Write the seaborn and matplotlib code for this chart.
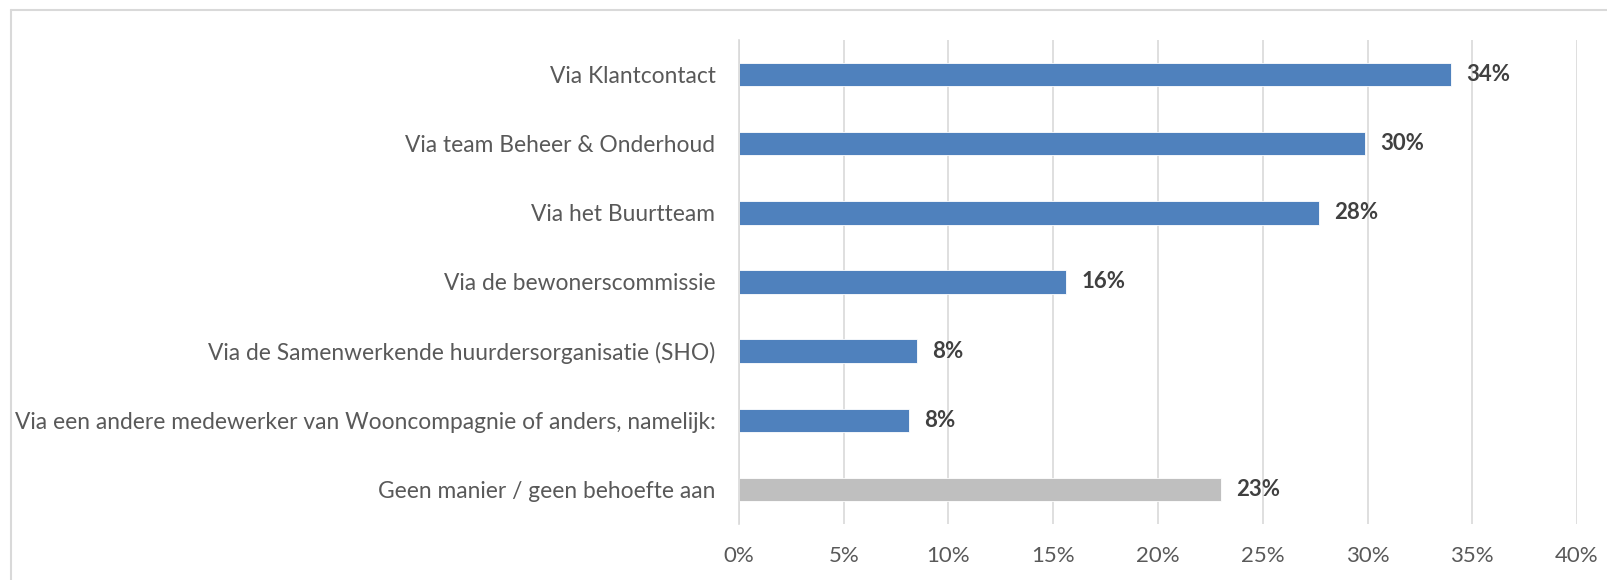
import matplotlib
matplotlib.use("Agg")
import matplotlib.pyplot as plt
import matplotlib.ticker as mticker
import seaborn as sns
import pandas as pd

categories = [
    "Via Klantcontact",
    "Via team Beheer & Onderhoud",
    "Via het Buurtteam",
    "Via de bewonerscommissie",
    "Via de Samenwerkende huurdersorganisatie (SHO)",
    "Via een andere medewerker van Wooncompagnie of anders, namelijk:",
    "Geen manier / geen behoefte aan",
]
values = [34.0, 29.9, 27.7, 15.6, 8.5, 8.1, 23.0]
labels = ["34%", "30%", "28%", "16%", "8%", "8%", "23%"]
colors = ["#4F81BD"] * 6 + ["#BFBFBF"]
xticks = [0, 5, 10, 15, 20, 25, 30, 35, 40]

df = pd.DataFrame({"categorie": categories, "waarde": values})

sns.set_theme(style="white")
plt.rcParams["font.family"] = ["Lato", "DejaVu Sans"]

fig = plt.figure(figsize=(16.08, 5.8), dpi=100)
ax = fig.add_axes([739 / 1608, 1 - 524 / 580, (1577 - 739) / 1608, (524 - 40) / 580])

sns.barplot(data=df, x="waarde", y="categorie", hue="categorie", palette=colors,
            legend=False, width=0.34, orient="h", ax=ax, saturation=1,
            edgecolor="white", linewidth=0.6)

for cont, lab in zip(ax.containers, labels):
    ax.bar_label(cont, labels=[lab], padding=11, fontsize=16, fontweight="bold",
                 color="#404040")

ax.set_xlim(0, 40)
ax.set_xticks(xticks)
ax.xaxis.set_major_formatter(mticker.FuncFormatter(lambda v, p: f"{v:.0f}%"))
ax.set_xlabel("")
ax.set_ylabel("")
ax.grid(axis="x", color="#D9D9D9", linewidth=1.2)
ax.grid(axis="y", visible=False)
ax.set_axisbelow(True)
for s in ["top", "right", "bottom"]:
    ax.spines[s].set_visible(False)
ax.spines["left"].set_color("#D9D9D9")
ax.spines["left"].set_linewidth(1.2)
ax.tick_params(axis="x", length=0, pad=16, labelsize=16, labelcolor="#595959")
ax.tick_params(axis="y", length=0, pad=17, labelsize=16.4, labelcolor="#595959")

# outer chart border (top and left visible)
fig.add_artist(plt.Line2D([11 / 1608, 1], [1 - 10 / 580, 1 - 10 / 580],
                          transform=fig.transFigure, color="#D9D9D9", linewidth=1.5))
fig.add_artist(plt.Line2D([11 / 1608, 11 / 1608], [0, 1 - 10 / 580],
                          transform=fig.transFigure, color="#D9D9D9", linewidth=1.5))

fig.savefig("out.png", dpi=100)
